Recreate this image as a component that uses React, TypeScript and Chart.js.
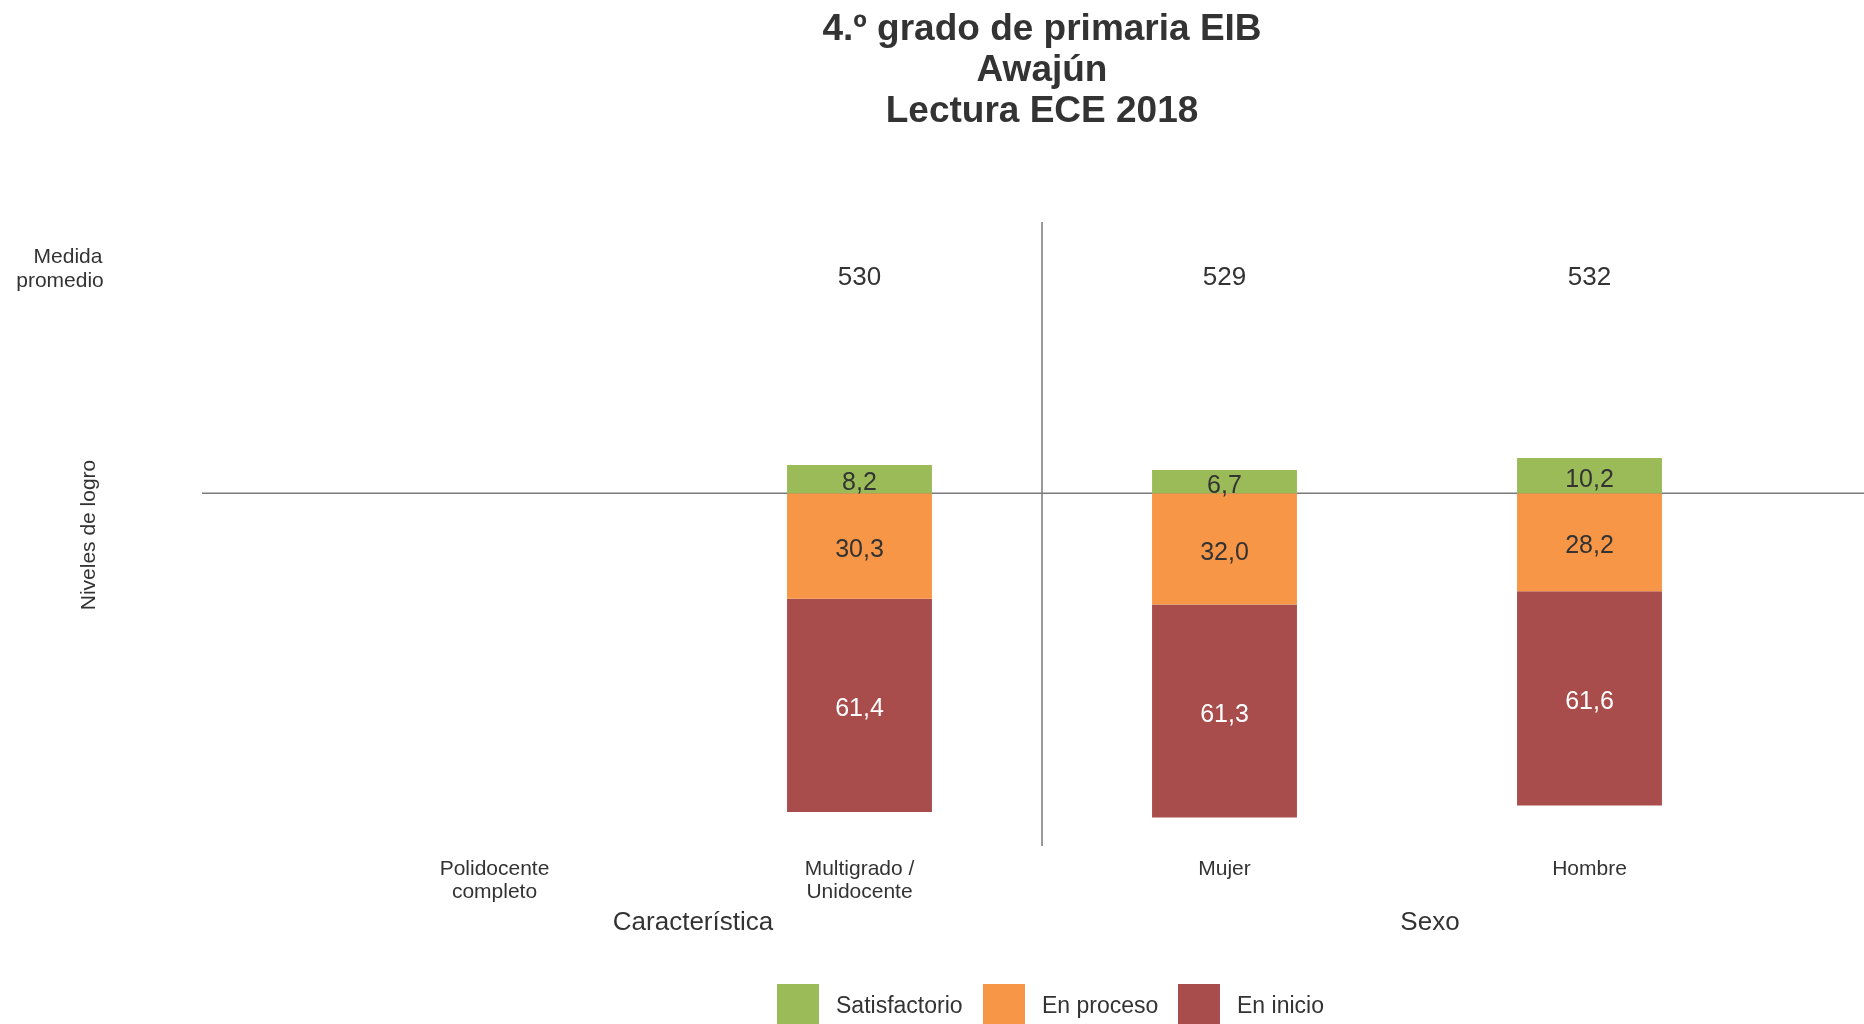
import React, { useEffect, useRef } from "react";
import { Chart, registerables } from "chart.js";

Chart.register(...registerables);

const categories = ["Polidocente\ncompleto", "Multigrado /\nUnidocente", "Mujer", "Hombre"];
const satisfactorio = [null, 8.2, 6.7, 10.2];
const enProceso = [null, 30.3, 32.0, 28.2];
const enInicio = [null, 61.4, 61.3, 61.6];
const medidaPromedio = [null, 530, 529, 532];
const titleLines = ["4.º grado de primaria EIB", "Awajún", "Lectura ECE 2018"];
const seriesNames = ["Satisfactorio", "En proceso", "En inicio"];
const seriesColors = ["#9BBB59", "#F79646", "#A84C4C"];
const labelColors = ["#333333", "#333333", "#FFFFFF"];

const FONT = "'Liberation Sans', Arial, sans-serif";
const fmt = (v: number) => Math.abs(v).toFixed(1).replace(".", ",");

export default function App() {
  const ref = useRef<HTMLCanvasElement | null>(null);

  useEffect(() => {
    document.body.style.margin = "0";
    const canvas = ref.current!;
    const overlay = {
      id: "overlay",
      beforeDatasetsDraw(chart: any) {
        const ctx = chart.ctx;
        const y0 = chart.scales.y.getPixelForValue(0);
        const xs = chart.scales.x;
        ctx.save();
        ctx.strokeStyle = "#7a7a7a";
        ctx.lineWidth = 1.5;
        ctx.beginPath();
        ctx.moveTo(202, y0);
        ctx.lineTo(1864, y0);
        const xd = (xs.getPixelForValue(1) + xs.getPixelForValue(2)) / 2;
        ctx.moveTo(xd, 222);
        ctx.lineTo(xd, 846);
        ctx.stroke();
        ctx.restore();
      },
      afterDatasetsDraw(chart: any) {
        const ctx = chart.ctx;
        const xs = chart.scales.x;
        ctx.save();
        // data labels
        ctx.textAlign = "center";
        ctx.textBaseline = "middle";
        ctx.font = `25px ${FONT}`;
        chart.data.datasets.forEach((ds: any, di: number) => {
          const meta = chart.getDatasetMeta(di);
          meta.data.forEach((el: any, i: number) => {
            const v = ds.data[i];
            if (v == null) return;
            const p = el.getProps(["x", "y", "base"], true);
            ctx.fillStyle = labelColors[di];
            ctx.fillText(fmt(v), p.x, (p.y + p.base) / 2 + 4);
          });
        });
        // title
        ctx.fillStyle = "#333333";
        ctx.font = `bold 37px ${FONT}`;
        const cx = 1042;
        titleLines.forEach((t, i) => ctx.fillText(t, cx, 30 + i * 41));
        // medida promedio
        ctx.font = `21px ${FONT}`;
        ctx.fillText("Medida", 68, 257);
        ctx.fillText("promedio", 60, 281);
        ctx.font = `26px ${FONT}`;
        medidaPromedio.forEach((v, i) => {
          if (v == null) return;
          ctx.fillText(String(v), xs.getPixelForValue(i), 278);
        });
        // y title
        ctx.save();
        ctx.translate(89, 535);
        ctx.rotate(-Math.PI / 2);
        ctx.font = `21px ${FONT}`;
        ctx.fillText("Niveles de logro", 0, 0);
        ctx.restore();
        // category labels
        ctx.font = `21px ${FONT}`;
        categories.forEach((c, i) => {
          const x = xs.getPixelForValue(i);
          c.split("\n").forEach((line, k) => ctx.fillText(line, x, 869 + k * 23));
        });
        // group labels
        ctx.font = `26px ${FONT}`;
        ctx.fillText("Característica", 693, 923);
        ctx.fillText("Sexo", 1430, 923);
        // legend
        const lx = [777, 983, 1178];
        ctx.textAlign = "left";
        ctx.font = `23px ${FONT}`;
        seriesNames.forEach((n, i) => {
          ctx.fillStyle = seriesColors[i];
          ctx.fillRect(lx[i], 984, 42, 40);
          ctx.fillStyle = "#333333";
          ctx.fillText(n, lx[i] + 59, 1007);
        });
        ctx.restore();
      },
    };

    const chart = new Chart(canvas, {
      type: "bar",
      data: {
        labels: categories,
        datasets: [
          { label: seriesNames[0], data: satisfactorio, backgroundColor: seriesColors[0] },
          { label: seriesNames[1], data: enProceso.map((v) => (v == null ? null : -v)), backgroundColor: seriesColors[1] },
          { label: seriesNames[2], data: enInicio.map((v) => (v == null ? null : -v)), backgroundColor: seriesColors[2] },
        ],
      },
      options: {
        animation: false,
        responsive: false,
        maintainAspectRatio: false,
        layout: { padding: { left: 312, right: 92, top: 222, bottom: 179 } },
        datasets: { bar: { categoryPercentage: 1, barPercentage: 0.397 } },
        plugins: { legend: { display: false }, title: { display: false }, tooltip: { enabled: false } },
        scales: {
          x: { stacked: true, display: false, offset: true },
          y: { stacked: true, display: false, min: -101.2, max: 78.1 },
        },
      },
      plugins: [overlay],
    });
    return () => chart.destroy();
  }, []);

  return (
    <div style={{ position: "fixed", left: 0, top: 0, width: 1864, height: 1024, background: "#fff" }}>
      <canvas ref={ref} width={1864} height={1024} style={{ width: 1864, height: 1024 }} />
    </div>
  );
}
